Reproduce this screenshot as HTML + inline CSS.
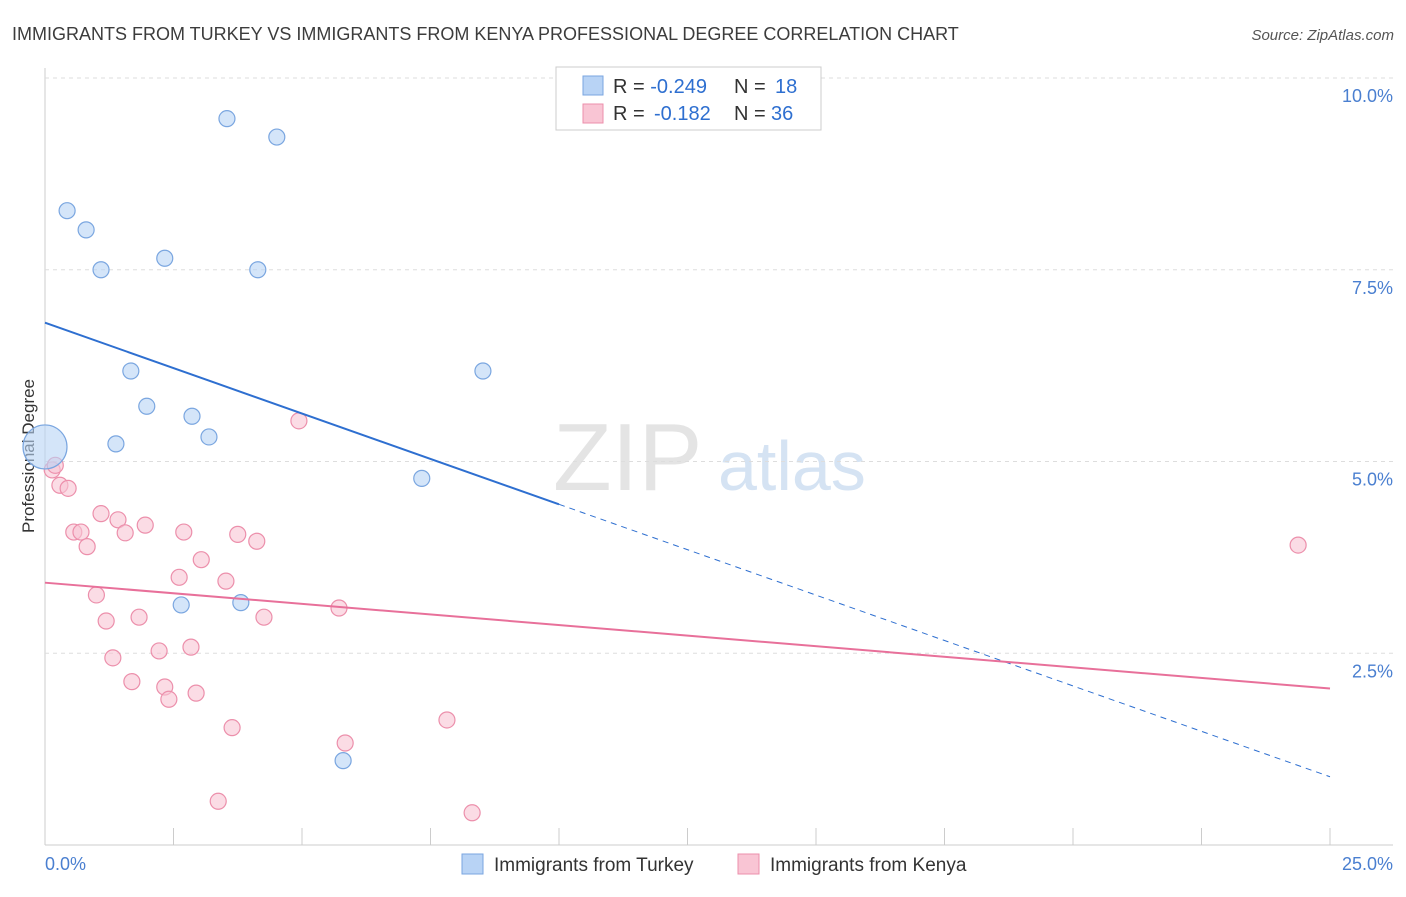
<!DOCTYPE html>
<html><head><meta charset="utf-8"><style>
body{margin:0;background:#fff;font-family:"Liberation Sans",sans-serif}
svg text{font-family:"Liberation Sans",sans-serif}
</style></head><body>
<svg id="c" width="1406" height="892" xmlns="http://www.w3.org/2000/svg">
<text x="12" y="40" font-size="18" fill="#3c3c3c">IMMIGRANTS FROM TURKEY VS IMMIGRANTS FROM KENYA PROFESSIONAL DEGREE CORRELATION CHART</text>
<text x="1394" y="40" font-size="15" fill="#555" font-style="italic" text-anchor="end">Source: ZipAtlas.com</text>
<text x="34" y="456" font-size="17" fill="#333" text-anchor="middle" transform="rotate(-90 34 456)">Professional Degree</text>
<text x="553" y="490" font-size="96" fill="#e4e4e4" font-family="Liberation Serif">ZIP</text>
<text x="718" y="490" font-size="70" fill="#d5e3f3">atlas</text>
<g id="grid"></g><g id="marks"></g>
<g>
<rect x="556" y="67" width="265" height="63" fill="#fff" stroke="#ccc"/>
<rect x="583" y="76" width="20" height="19" fill="#b8d3f5" stroke="#7aa6e0"/>
<rect x="583" y="104" width="20" height="19" fill="#f9c5d4" stroke="#ec8fab"/>
<text x="613" y="93" font-size="20" fill="#333">R = <tspan fill="#2e6fd0">-0.249</tspan><tspan x="734">N = </tspan><tspan fill="#2e6fd0" x="775">18</tspan></text>
<text x="613" y="120" font-size="20" fill="#333">R = <tspan fill="#2e6fd0" x="654">-0.182</tspan><tspan x="734">N = </tspan><tspan fill="#2e6fd0" x="771">36</tspan></text>
</g>
<g>
<rect x="462" y="854" width="21" height="20" fill="#b8d3f5" stroke="#7aa6e0"/>
<text x="494" y="871" font-size="19" fill="#333">Immigrants from Turkey</text>
<rect x="738" y="854" width="21" height="20" fill="#f9c5d4" stroke="#ec8fab"/>
<text x="770" y="871" font-size="19" fill="#333">Immigrants from Kenya</text>
</g>
</svg>
<script>
const xTicks=[0,2.5,5,7.5,10,12.5,15,17.5,20,22.5,25];
const yTickVals=[2.5,5,7.5,10];
const yTickLabels=["2.5%","5.0%","7.5%","10.0%"];
const turkeyX=[0,0.43,0.8,1.09,2.33,3.54,4.51,4.14,1.67,1.98,2.86,1.38,3.19,8.52,7.33,2.65,3.81,5.8];
const turkeyY=[5.19,8.27,8.02,7.5,7.65,9.47,9.23,7.5,6.18,5.72,5.59,5.23,5.32,6.18,4.78,3.13,3.16,1.1];
const kenyaX=[0.14,0.2,0.29,0.45,0.56,0.7,0.82,1.09,1.42,1.56,1.95,2.7,3.75,4.12,3.04,2.61,3.52,1.0,1.19,1.83,4.26,5.72,2.84,2.22,1.32,1.69,2.33,2.41,2.94,3.64,5.84,7.82,3.37,8.31,4.94,24.38];
const kenyaY=[4.89,4.95,4.69,4.65,4.08,4.08,3.89,4.32,4.24,4.07,4.17,4.08,4.05,3.96,3.72,3.49,3.44,3.26,2.92,2.97,2.97,3.09,2.58,2.53,2.44,2.13,2.06,1.9,1.98,1.53,1.33,1.63,0.57,0.42,5.53,3.91];
const turkeyTrend=[6.81,0.89];
const kenyaTrend=[3.42,2.04];
const NS="http://www.w3.org/2000/svg";
const X=v=>45+v*51.4, Y=v=>845-v*76.7;
function mk(t,a,p){const e=document.createElementNS(NS,t);for(const k in a)e.setAttribute(k,a[k]);p.appendChild(e);return e;}
const g=document.getElementById('grid'),m=document.getElementById('marks');
let ax=mk('line',{x1:45,y1:845,x2:1393,y2:845,stroke:'#ccc'},g);


let ay=mk('line',{x1:45,y1:68,x2:45,y2:845,stroke:'#ccc'},g);


xTicks.forEach(v=>{let t=mk('line',{x1:X(v),y1:828,x2:X(v),y2:845,stroke:'#ccc'},g);

});
let xl=mk('text',{x:45,y:870,'font-size':18,fill:'#4a7fd0'},g);xl.textContent=xTicks[0].toFixed(1)+'%';


let xr=mk('text',{x:1393,y:870,'font-size':18,fill:'#4a7fd0','text-anchor':'end'},g);xr.textContent=xTicks[xTicks.length-1].toFixed(1)+'%';


yTickVals.forEach((v,i)=>{let l=mk('line',{x1:45,y1:Y(v),x2:1393,y2:Y(v),stroke:'#ddd','stroke-dasharray':'4,4'},g);


let t=mk('text',{x:1393,y:Y(v)+24,'font-size':18,fill:'#4a7fd0','text-anchor':'end'},g);t.textContent=yTickLabels[i];

});
kenyaX.forEach((v,i)=>{let c=mk('circle',{cx:X(v),cy:Y(kenyaY[i]),r:8,fill:'#f9c5d4','fill-opacity':0.6,stroke:'#ec8fab','stroke-width':1.2},m);

});
turkeyX.forEach((v,i)=>{let c=mk('circle',{cx:X(v),cy:Y(turkeyY[i]),r:i==0?22:8,fill:'#b8d3f5','fill-opacity':0.6,stroke:'#7aa6e0','stroke-width':1.2},m);

});
const bAt=x=>turkeyTrend[0]+(turkeyTrend[1]-turkeyTrend[0])*x/25;
let b1=mk('line',{x1:X(0),y1:Y(bAt(0)),x2:X(10),y2:Y(bAt(10)),stroke:'#2e6fd0','stroke-width':2},m);


let b2=mk('line',{x1:X(10),y1:Y(bAt(10)),x2:X(25),y2:Y(bAt(25)),stroke:'#2e6fd0','stroke-width':1,'stroke-dasharray':'6,5'},m);


let p1=mk('line',{x1:X(0),y1:Y(kenyaTrend[0]),x2:X(25),y2:Y(kenyaTrend[1]),stroke:'#e8709a','stroke-width':2},m);


</script>
</body></html>
